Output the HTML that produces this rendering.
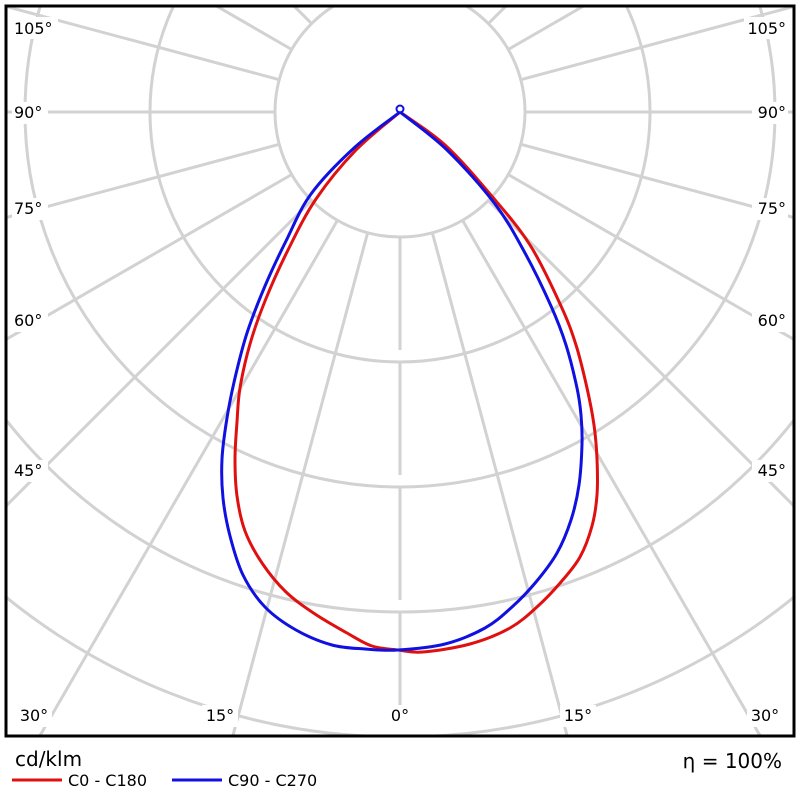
<!DOCTYPE html>
<html><head><meta charset="utf-8"><style>
html,body{margin:0;background:#fff;width:800px;height:800px;overflow:hidden}
svg{display:block}
text{font-family:"DejaVu Sans","Liberation Sans",sans-serif;fill:#000}
</style></head><body>
<svg width="800" height="800" viewBox="0 0 800 800">
<defs><clipPath id="c"><rect x="7" y="7" width="786" height="728"/></clipPath></defs>
<g clip-path="url(#c)" stroke="#d2d2d2" stroke-width="3" fill="none">
<circle cx="400" cy="112" r="125"/>
<circle cx="400" cy="112" r="250"/>
<circle cx="400" cy="112" r="375"/>
<circle cx="400" cy="112" r="500"/>
<circle cx="400" cy="112" r="625"/>
<line x1="400" y1="237" x2="400" y2="1000" stroke-dasharray="113 12 113 12 113 12 113 12 600"/>
<line x1="400" y1="237" x2="400" y2="1000" transform="rotate(15 400 112)"/>
<line x1="400" y1="237" x2="400" y2="1000" transform="rotate(30 400 112)"/>
<line x1="400" y1="237" x2="400" y2="1000" transform="rotate(45 400 112)"/>
<line x1="400" y1="237" x2="400" y2="1000" transform="rotate(60 400 112)"/>
<line x1="400" y1="237" x2="400" y2="1000" transform="rotate(75 400 112)"/>
<line x1="400" y1="237" x2="400" y2="1000" transform="rotate(90 400 112)"/>
<line x1="400" y1="237" x2="400" y2="1000" transform="rotate(105 400 112)"/>
<line x1="400" y1="237" x2="400" y2="1000" transform="rotate(120 400 112)"/>
<line x1="400" y1="237" x2="400" y2="1000" transform="rotate(135 400 112)"/>
<line x1="400" y1="237" x2="400" y2="1000" transform="rotate(150 400 112)"/>
<line x1="400" y1="237" x2="400" y2="1000" transform="rotate(-15 400 112)"/>
<line x1="400" y1="237" x2="400" y2="1000" transform="rotate(-30 400 112)"/>
<line x1="400" y1="237" x2="400" y2="1000" transform="rotate(-45 400 112)"/>
<line x1="400" y1="237" x2="400" y2="1000" transform="rotate(-60 400 112)"/>
<line x1="400" y1="237" x2="400" y2="1000" transform="rotate(-75 400 112)"/>
<line x1="400" y1="237" x2="400" y2="1000" transform="rotate(-90 400 112)"/>
<line x1="400" y1="237" x2="400" y2="1000" transform="rotate(-105 400 112)"/>
<line x1="400" y1="237" x2="400" y2="1000" transform="rotate(-120 400 112)"/>
<line x1="400" y1="237" x2="400" y2="1000" transform="rotate(-135 400 112)"/>
<line x1="400" y1="237" x2="400" y2="1000" transform="rotate(-150 400 112)"/>
</g>
<g font-size="16">
<rect x="12" y="17" width="46" height="22" fill="#fff"/><text x="14" y="34">105°</text>
<rect x="744" y="17" width="46" height="22" fill="#fff"/><text x="786" y="34" text-anchor="end">105°</text>
<rect x="12" y="102" width="36" height="22" fill="#fff"/><text x="14" y="118">90°</text>
<rect x="752" y="102" width="36" height="22" fill="#fff"/><text x="786" y="118" text-anchor="end">90°</text>
<rect x="12" y="198" width="36" height="22" fill="#fff"/><text x="14" y="214">75°</text>
<rect x="752" y="198" width="36" height="22" fill="#fff"/><text x="786" y="214" text-anchor="end">75°</text>
<rect x="12" y="310" width="36" height="22" fill="#fff"/><text x="14" y="326">60°</text>
<rect x="752" y="310" width="36" height="22" fill="#fff"/><text x="786" y="326" text-anchor="end">60°</text>
<rect x="12" y="460" width="36" height="22" fill="#fff"/><text x="14" y="476">45°</text>
<rect x="752" y="460" width="36" height="22" fill="#fff"/><text x="786" y="476" text-anchor="end">45°</text>
<rect x="16" y="705" width="36" height="22" fill="#fff"/><text x="34" y="721" text-anchor="middle">30°</text>
<rect x="202" y="705" width="36" height="22" fill="#fff"/><text x="220" y="721" text-anchor="middle">15°</text>
<rect x="386" y="705" width="28" height="22" fill="#fff"/><text x="400" y="721" text-anchor="middle">0°</text>
<rect x="560" y="705" width="36" height="22" fill="#fff"/><text x="578" y="721" text-anchor="middle">15°</text>
<rect x="747" y="705" width="36" height="22" fill="#fff"/><text x="765" y="721" text-anchor="middle">30°</text>
</g>
<g fill="none" stroke-width="3" stroke-linejoin="round">
<path id="red" stroke="#e01010" data-p="400,112 445,145 490,194 530,245 561,306 576,345 587,388 594,425 597,459 597,495 592,526 580,557 561,582 538,606 510,628 470,644 423,652 398,650 372,646 347,633 315,614 286,592 262,563 245,531 237,496 235,459 237,422 240,388 250,344 265,301 288,250 316,199 356,150 400,112"/>
<path id="blue" stroke="#1010e0" data-p="400,112 447,150 495,204 525,253 551,306 566,345 577,388 581,415 582,444 579,485 571,520 557,553 536,582 512,607 485,628 445,644 398,650 365,649 332,645 296,630 265,607 243,575 230,536 223,498 222,459 227,418 235,378 247,333 265,286 286,241 311,194 354,148 400,112"/>
<circle cx="400" cy="109" r="3.5" stroke="#1010e0" stroke-width="2"/>
</g>
<rect x="6" y="6" width="788" height="730" fill="none" stroke="#000" stroke-width="3"/>
<text x="15" y="766" font-size="20">cd/klm</text>
<text x="782" y="768" font-size="20" text-anchor="end">η = 100%</text>
<line x1="12" y1="780" x2="62" y2="780" stroke="#e01010" stroke-width="3"/>
<text x="68" y="786" font-size="16">C0 - C180</text>
<line x1="172" y1="780" x2="222" y2="780" stroke="#1010e0" stroke-width="3"/>
<text x="228" y="786" font-size="16">C90 - C270</text>
</svg>
<script>
["red","blue"].forEach(function(id){
var el=document.getElementById(id);
var p=el.getAttribute("data-p").split(" ").map(function(s){return s.split(",").map(Number);});
var d="M"+p[0][0]+","+p[0][1];
for(var i=0;i<p.length-1;i++){
var p0=p[Math.max(i-1,0)],p1=p[i],p2=p[i+1],p3=p[Math.min(i+2,p.length-1)];
var c1=[p1[0]+(p2[0]-p0[0])/6,p1[1]+(p2[1]-p0[1])/6];
var c2=[p2[0]-(p3[0]-p1[0])/6,p2[1]-(p3[1]-p1[1])/6];
d+=" C"+c1[0]+","+c1[1]+" "+c2[0]+","+c2[1]+" "+p2[0]+","+p2[1];
}
el.setAttribute("d",d);
});
</script>
</body></html>
